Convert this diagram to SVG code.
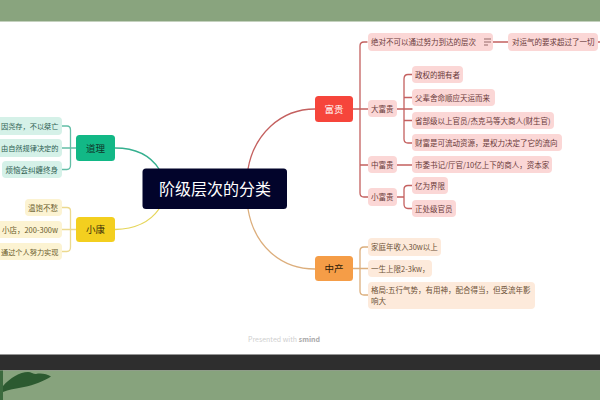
<svg xmlns="http://www.w3.org/2000/svg" width="600" height="400" viewBox="0 0 600 400">
<style>
text{font-family:"Noto Sans CJK SC","Noto Sans",sans-serif;font-size:7.5px}
.l{fill:none;stroke-width:1.3;stroke-linecap:round}
.r{stroke:#c4605f}.o{stroke:#dcae7c}.g{stroke:#35b08f}.y{stroke:#e6d65a}.gl{stroke:#62bea6}.yl{stroke:#ecd98e}
.pk{fill:#fbd7d6}.pt{fill:#6a3a3a}
.pe{fill:#fdeadb}.et{fill:#6d5238}
.gr{fill:#d5f1e8}.gt{fill:#2f5f52}
.ye{fill:#fcf3d2}.yt{fill:#6a5c2c}
.tb{font-size:9.5px;text-anchor:middle}
.e{text-anchor:end}
.f{font-size:7.200px}
</style>
<rect width="600" height="400" fill="#fff"/>
<rect width="600" height="21.500" fill="#89a47e"/>
<rect y="354.500" width="600" height="16" fill="#2e2e2e"/>
<rect y="370.500" width="600" height="29.500" fill="#87a37d"/>
<path d="M3 386C10 378 20 372 28 372C31 372 33 374 36 374C41 373 47 374 51 376.500C44 381 34 385 24 387C15 388.500 8 390 3 392Z" fill="#2c5a30"/>
<rect x="0" y="370.500" width="3" height="29.500" fill="#3c6a3e"/>
<text x="284" y="342" style="font-size:7px" text-anchor="middle" fill="#cfcfcf">Presented with <tspan fill="#aaa" font-weight="700">smind</tspan></text>

<g id="connectors">
<path class="l r" d="M248 169C254 135 280 109 315 109"/>
<path class="l o" d="M248 209C254 245 280 269 315 269"/>
<path class="l g" d="M115 148C135 148 150 155 159 169"/>
<path class="l y" d="M115 229.500C135 229 150 222 159 209"/>
<path class="l r" d="M353 109H368M367 42H364Q360 42 360 46V193Q360 197 364 197H368M360 165H368"/>
<path class="l r" d="M493 42H508M598 42H600"/>
<path class="l r" d="M397 109H412M412 74.500H408Q404 74.500 404 79V139Q404 143 408 143H412M404 97.500H412M404 120.500H412"/>
<path class="l r" d="M397 165H412"/>
<path class="l r" d="M397 197H404M412 185.500H408Q404 185.500 404 189.500V204Q404 208.500 408 208.500H412"/>
<path class="l o" d="M353 268.500H368M368 247H364Q360 247 360 251V291Q360 295 364 295H368"/>
<path class="l gl" d="M76 148H62M62 126H67Q70.500 126 70.500 130V165Q70.500 169.500 67 169.500H62"/>
<path class="l yl" d="M76 229.500H62M62 207.500H67Q70.500 207.500 70.500 211V247Q70.500 251.500 67 251.500H62"/>
</g>

<g id="center"><rect x="142.500" y="168.500" width="144.500" height="40.500" rx="3.500" fill="#02042b"/><text x="215" y="194.500" style="font-size:16px" text-anchor="middle" fill="#fff">阶级层次的分类</text></g>

<g id="fugui"><rect x="315" y="96" width="38" height="26" rx="3.500" fill="#f6453b"/><text class="tb" x="334" y="112.500" fill="#fff">富贵</text></g>
<g id="zhongchan"><rect x="315" y="256" width="38" height="25" rx="3.500" fill="#f59d47"/><text class="tb" x="334" y="272" fill="#2b1a08">中产</text></g>
<g id="daoli"><rect x="76" y="135" width="39" height="26" rx="3.500" fill="#12b886"/><text class="tb" x="95.500" y="151.500" fill="#10352a">道理</text></g>
<g id="xiaokang"><rect x="76" y="217" width="39" height="25" rx="3.500" fill="#f3cf1f"/><text class="tb" x="95.500" y="233" fill="#3a300a">小康</text></g>

<g id="r1"><rect class="pk" x="368" y="33" width="125" height="18" rx="4"/><text class="pt" x="371" y="45">绝对不可以通过努力到达的层次</text><path d="M484 39H491M484 42H491M484 45H488" stroke="#6a3a3a" stroke-width=".7" fill="none"/></g>
<g id="r1a"><rect class="pk" x="508" y="33" width="90" height="18" rx="4"/><text class="pt" x="512" y="45">对运气的要求超过了一切</text></g>
<g id="r2"><rect class="pk" x="368" y="100" width="29" height="17" rx="4"/><text class="pt" x="371" y="112">大富贵</text></g>
<g id="r2a"><rect class="pk" x="412" y="66" width="51" height="17" rx="4"/><text class="pt" x="415" y="78">政权的拥有者</text></g>
<g id="r2b"><rect class="pk" x="412" y="89" width="83" height="17" rx="4"/><text class="pt" x="415" y="101">父辈舍命顺应天运而来</text></g>
<g id="r2c"><rect class="pk" x="412" y="112" width="142" height="17" rx="4"/><text class="pt" x="415" y="124">省部级以上官员/杰克马等大商人(财生官)</text></g>
<g id="r2d"><rect class="pk" x="412" y="134" width="150" height="17" rx="4"/><text class="pt" x="415" y="146">财富是可流动资源，是权力决定了它的流向</text></g>
<g id="r3"><rect class="pk" x="368" y="156" width="29" height="17" rx="4"/><text class="pt" x="371" y="168">中富贵</text></g>
<g id="r3a"><rect class="pk" x="412" y="156" width="140" height="17" rx="4"/><text class="pt" x="415" y="168">市委书记/厅官/10亿上下的商人，资本家</text></g>
<g id="r4"><rect class="pk" x="368" y="188" width="29" height="18" rx="4"/><text class="pt" x="371" y="200">小富贵</text></g>
<g id="r4a"><rect class="pk" x="412" y="177" width="36" height="17" rx="4"/><text class="pt" x="415" y="189">亿为界限</text></g>
<g id="r4b"><rect class="pk" x="412" y="200" width="44" height="17" rx="4"/><text class="pt" x="415" y="212">正处级官员</text></g>

<g id="o1"><rect class="pe" x="368" y="238" width="73" height="18" rx="4"/><text class="et" x="371" y="250">家庭年收入30w以上</text></g>
<g id="o2"><rect class="pe" x="368" y="260" width="64" height="17" rx="4"/><text class="et" x="371" y="272">一生上限2-3kw，</text></g>
<g id="o3"><rect class="pe" x="368" y="282" width="167" height="27" rx="4"/><text class="et" x="371" y="293">格局:五行气势，有用神，配合得当，但受流年影</text><text class="et" x="371" y="304">响大</text></g>

<g id="g1"><rect class="gr" x="-6" y="117" width="68" height="18" rx="4"/><text class="gt e f" x="58.500" y="129">因尧存，不以桀亡</text></g>
<g id="g2"><rect class="gr" x="-6" y="139" width="68" height="18" rx="4"/><text class="gt e f" x="58.500" y="151">由自然规律决定的</text></g>
<g id="g3"><rect class="gr" x="2" y="161" width="60" height="17" rx="4"/><text class="gt e" x="58" y="173">烦恼会纠缠终身</text></g>
<g id="y1"><rect class="ye" x="25" y="199" width="37" height="17" rx="4"/><text class="yt e" x="58" y="211">温饱不愁</text></g>
<g id="y2"><rect class="ye" x="-6" y="221" width="68" height="17" rx="4"/><text class="yt e" x="58" y="233">小店，200-300w</text></g>
<g id="y3"><rect class="ye" x="-6" y="243" width="68" height="17" rx="4"/><text class="yt e f" x="58.500" y="255">通过个人努力实现</text></g>
</svg>
